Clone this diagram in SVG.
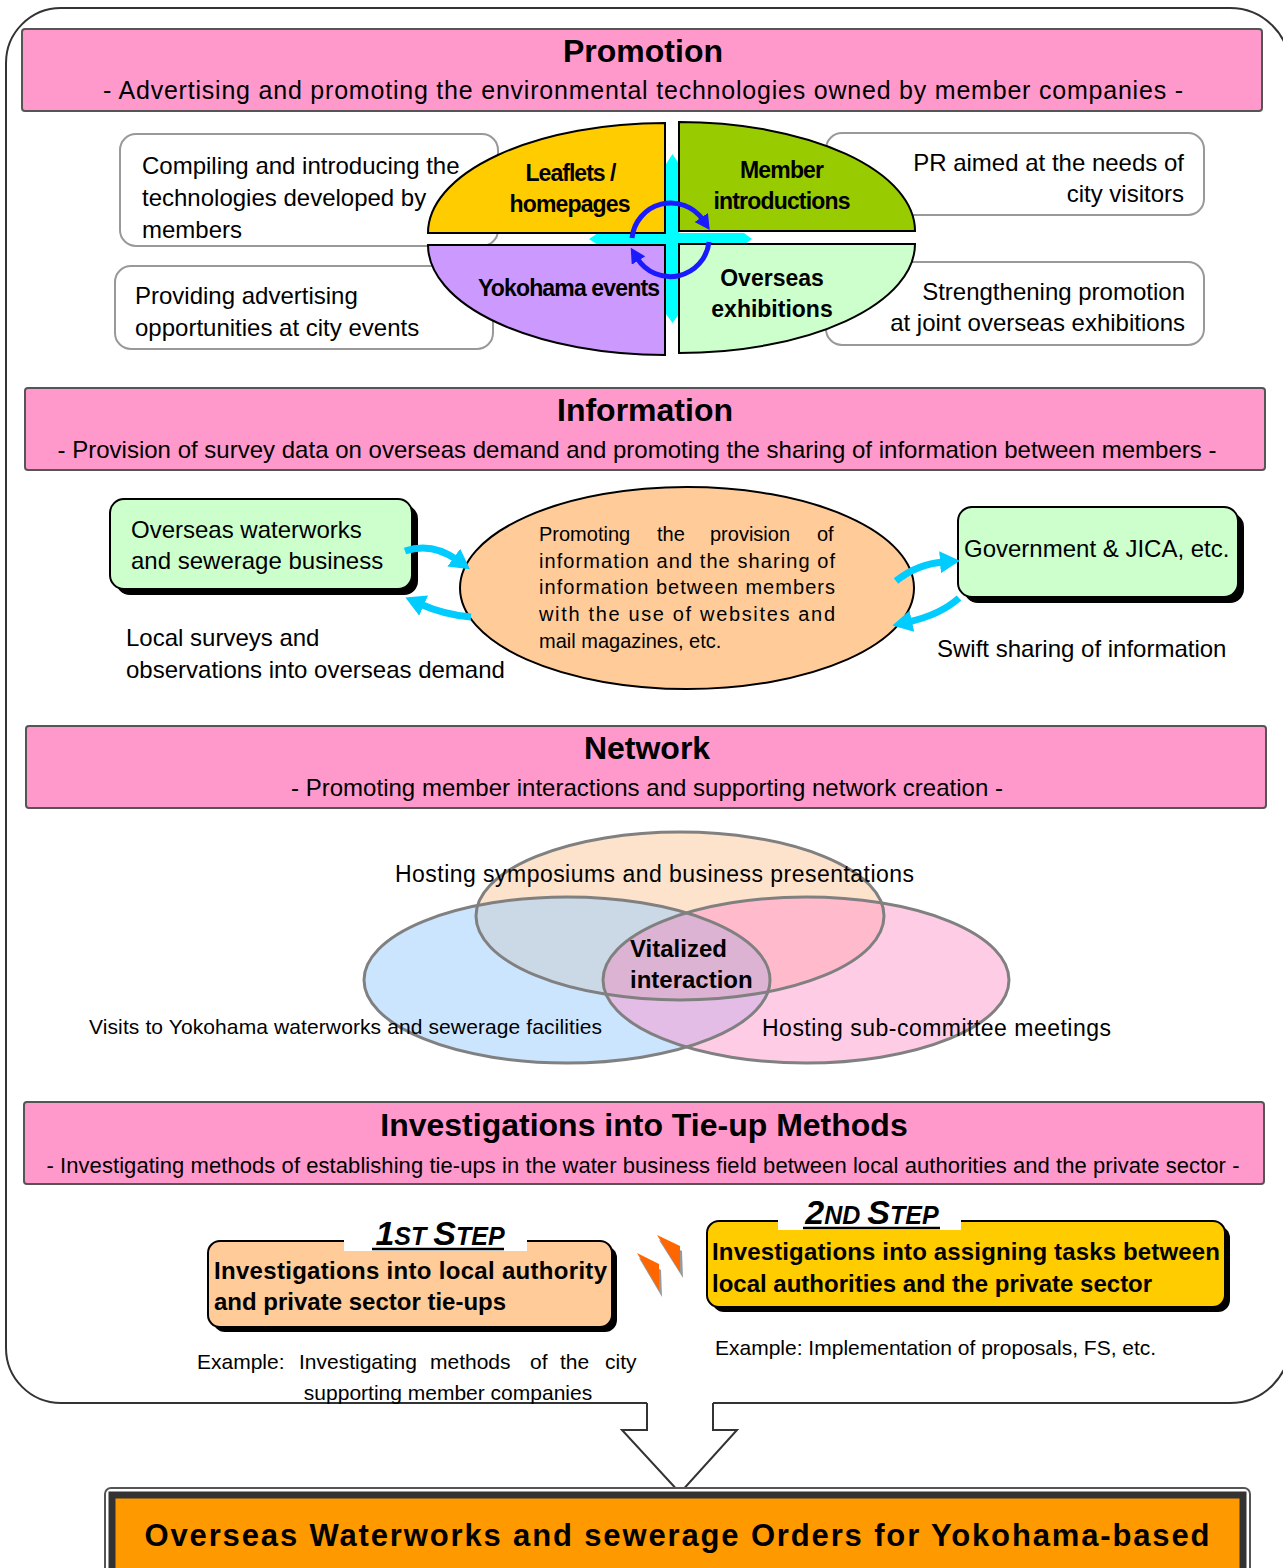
<svg xmlns="http://www.w3.org/2000/svg" width="1283" height="1568" viewBox="0 0 1283 1568">
<style>
text{font-family:"Liberation Sans",Arial,sans-serif;fill:#000}
.hdr{fill:#FF99CC;stroke:#555;stroke-width:2}
.ttl{font-size:32px;font-weight:bold;text-anchor:middle}
.sub{font-size:24px;text-anchor:middle}
.note{fill:#fff;stroke:#999;stroke-width:2}
.t24{font-size:24px}
.b21{font-size:23px;font-weight:bold;text-anchor:middle}
.quad{stroke:#000;stroke-width:2}
.gbox{fill:#CCFFCC;stroke:#000;stroke-width:2}
.cy{fill:none;stroke:#00CCFF;stroke-width:7}
.bl{fill:none;stroke:#1a1aff;stroke-width:5}
.vs{fill:none;stroke:#808080;stroke-width:3}
.stepT{font-size:34px;font-weight:bold;font-style:italic;text-anchor:middle}
.stepS{font-size:25px}
.sbx{font-size:24px;font-weight:bold}
.ex{font-size:21px}
.i20{font-size:20px}
</style>
<defs>
<marker id="ca" markerUnits="userSpaceOnUse" markerWidth="22" markerHeight="22" refX="4" refY="11" orient="auto"><path d="M0,0 L20,11 L0,22 Z" fill="#00CCFF"/></marker>
<marker id="ba" markerUnits="userSpaceOnUse" markerWidth="16" markerHeight="16" refX="3" refY="8" orient="auto"><path d="M0,0 L15,8 L0,16 Z" fill="#1a1aff"/></marker>
<clipPath id="cL"><ellipse cx="567" cy="980" rx="203" ry="83"/></clipPath>
<clipPath id="cR"><ellipse cx="806" cy="980" rx="203" ry="83"/></clipPath>
</defs>

<g id="frame">
<path d="M647,1403 H61 A55,55 0 0 1 6,1348 V63 A55,55 0 0 1 61,8 H1230 A60,60 0 0 1 1290,68 V1343 A60,60 0 0 1 1230,1403 H713" fill="none" stroke="#333" stroke-width="2"/>
<path d="M647,1403 V1430 H622 L680,1493 L737,1430 H713 V1403" fill="#fff" stroke="#333" stroke-width="2"/>
</g>

<!-- Promotion -->
<g id="promotion-header">
<rect class="hdr" x="22" y="29" width="1240" height="82" rx="3"/>
<text class="ttl" x="643" y="62">Promotion</text>
<text class="sub" x="643" y="99" textLength="1080" style="font-size:25px">- Advertising and promoting the environmental technologies owned by member companies -</text>
</g>
<g id="note-compiling">
<rect class="note" x="120" y="134" width="378" height="112" rx="16"/>
<text class="t24" x="142" y="174">Compiling and introducing the</text>
<text class="t24" x="142" y="206">technologies developed by</text>
<text class="t24" x="142" y="238">members</text>
</g>
<g id="note-providing">
<rect class="note" x="115" y="266" width="378" height="83" rx="16"/>
<text class="t24" x="135" y="304">Providing advertising</text>
<text class="t24" x="135" y="336">opportunities at city events</text>
</g>
<g id="note-pr">
<rect class="note" x="826" y="133" width="378" height="82" rx="16"/>
<text class="t24" x="1184" y="171" text-anchor="end">PR aimed at the needs of</text>
<text class="t24" x="1184" y="202" text-anchor="end">city visitors</text>
</g>
<g id="note-strengthening">
<rect class="note" x="826" y="262" width="378" height="83" rx="16"/>
<text class="t24" x="1185" y="300" text-anchor="end">Strengthening promotion</text>
<text class="t24" x="1185" y="331" text-anchor="end">at joint overseas exhibitions</text>
</g>
<g id="cross">
<polygon points="672.5,154 679,164 679,233 744,233 752,239 744,245 679,245 679,314 672.5,323 666,314 666,245 598,245 589,239 598,233 666,233 666,164" fill="#00FFFF"/>
</g>
<g id="quad-leaflets">
<path class="quad" d="M665,233 L428,233 A237,110 0 0 1 665,123 Z" fill="#FFCC00"/>
<text class="b21" x="571" y="181" textLength="91">Leaflets /</text>
<text class="b21" x="570" y="212" textLength="121">homepages</text>
</g>
<g id="quad-member">
<path class="quad" d="M679,231 L679,122 A236,109 0 0 1 915,231 Z" fill="#99CC00"/>
<text class="b21" x="782" y="178" textLength="84">Member</text>
<text class="b21" x="782" y="209" textLength="137">introductions</text>
</g>
<g id="quad-yokohama">
<path class="quad" d="M665,245 L428,245 A237,110 0 0 0 665,355 Z" fill="#CC99FF"/>
<text class="b21" x="569" y="296" textLength="182">Yokohama events</text>
</g>
<g id="quad-overseas">
<path class="quad" d="M679,244 L915,244 A236,109 0 0 1 679,353 Z" fill="#CCFFCC"/>
<text class="b21" x="772" y="286">Overseas</text>
<text class="b21" x="772" y="317">exhibitions</text>
</g>
<g id="cycle-arrows">
<path class="bl" d="M632,238 A39,39 0 0 1 703,220" marker-end="url(#ba)"/>
<path class="bl" d="M709,242 A39,39 0 0 1 637,258" marker-end="url(#ba)"/>
</g>

<!-- Information -->
<g id="information-header">
<rect class="hdr" x="25" y="388" width="1240" height="82" rx="3"/>
<text class="ttl" x="645" y="421">Information</text>
<text class="sub" x="637" y="458" textLength="1159">- Provision of survey data on overseas demand and promoting the sharing of information between members -</text>
</g>
<g id="info-center">
<ellipse cx="687" cy="588" rx="227" ry="101" fill="#FFCC99" stroke="#000" stroke-width="2"/>
<text class="i20" y="541"><tspan x="539">Promoting</tspan><tspan x="657">the</tspan><tspan x="710">provision</tspan><tspan x="817">of</tspan></text>
<text class="i20" x="539" y="568" textLength="296">information and the sharing of</text>
<text class="i20" x="539" y="594" textLength="296">information between members</text>
<text class="i20" x="539" y="621" textLength="296">with the use of websites and</text>
<text class="i20" x="539" y="648">mail magazines, etc.</text>
</g>
<g id="info-overseas">
<rect x="116" y="505" width="302" height="90" rx="14" fill="#000"/>
<rect class="gbox" x="110" y="499" width="302" height="90" rx="14"/>
<text class="t24" x="131" y="538">Overseas waterworks</text>
<text class="t24" x="131" y="569">and sewerage business</text>
</g>
<g id="info-government">
<rect x="964" y="513" width="280" height="90" rx="14" fill="#000"/>
<rect class="gbox" x="958" y="507" width="280" height="90" rx="14"/>
<text class="t24" x="964" y="557">Government &amp; JICA, etc.</text>
</g>
<g id="info-connectors">
<path class="cy" d="M405,551 Q432,542 457,560" marker-end="url(#ca)"/>
<path class="cy" d="M471,617 Q445,615 420,604" marker-end="url(#ca)"/>
<path class="cy" d="M896,581 Q917,564 944,562" marker-end="url(#ca)"/>
<path class="cy" d="M959,598 Q940,615 908,622" marker-end="url(#ca)"/>
</g>
<g id="info-labels">
<text class="t24" x="126" y="646">Local surveys and</text>
<text class="t24" x="126" y="678">observations into overseas demand</text>
<text class="t24" x="937" y="657">Swift sharing of information</text>
</g>

<!-- Network -->
<g id="network-header">
<rect class="hdr" x="26" y="726" width="1240" height="82" rx="3"/>
<text class="ttl" x="647" y="759">Network</text>
<text class="sub" x="647" y="796" textLength="712">- Promoting member interactions and supporting network creation -</text>
</g>
<g id="venn">
<ellipse cx="680" cy="916" rx="204" ry="84" fill="#FDE3CB"/>
<ellipse cx="567" cy="980" rx="203" ry="83" fill="#CCE5FF"/>
<ellipse cx="806" cy="980" rx="203" ry="83" fill="#FFCCE5"/>
<ellipse cx="680" cy="916" rx="204" ry="84" fill="#CBD8E6" clip-path="url(#cL)"/>
<ellipse cx="680" cy="916" rx="204" ry="84" fill="#FFBBCC" clip-path="url(#cR)"/>
<ellipse cx="567" cy="980" rx="203" ry="83" fill="#E3BDE5" clip-path="url(#cR)"/>
<g clip-path="url(#cL)"><ellipse cx="680" cy="916" rx="204" ry="84" fill="#DDB3D3" clip-path="url(#cR)"/></g>
<ellipse class="vs" cx="680" cy="916" rx="204" ry="84"/>
<ellipse class="vs" cx="567" cy="980" rx="203" ry="83"/>
<ellipse class="vs" cx="806" cy="980" rx="203" ry="83"/>
<text class="t24" x="395" y="882" textLength="519" style="font-size:23px">Hosting symposiums and business presentations</text>
<text class="t24" x="630" y="957" style="font-weight:bold">Vitalized</text>
<text class="t24" x="630" y="988" style="font-weight:bold">interaction</text>
<text class="ex" x="89" y="1034" textLength="513">Visits to Yokohama waterworks and sewerage facilities</text>
<text class="t24" x="762" y="1036" textLength="349" style="font-size:23px">Hosting sub-committee meetings</text>
</g>

<!-- Investigations -->
<g id="investigations-header">
<rect class="hdr" x="24" y="1102" width="1240" height="82" rx="3"/>
<text class="ttl" x="644" y="1136">Investigations into Tie-up Methods</text>
<text class="sub" x="643" y="1173" textLength="1193" style="font-size:22px">- Investigating methods of establishing tie-ups in the water business field between local authorities and the private sector -</text>
</g>
<g id="step1">
<rect x="213" y="1246" width="404" height="86" rx="12" fill="#000"/>
<rect x="208" y="1241" width="404" height="86" rx="12" fill="#FFCC99" stroke="#000" stroke-width="2"/>
<rect x="344" y="1218" width="183" height="33" fill="#fff"/>
<text class="stepT" x="440" y="1245">1<tspan class="stepS">ST </tspan>S<tspan class="stepS">TEP</tspan></text>
<line x1="372" y1="1249" x2="504" y2="1249" stroke="#000" stroke-width="2.5"/>
<text class="sbx" x="214" y="1279" textLength="393">Investigations into local authority</text>
<text class="sbx" x="214" y="1310">and private sector tie-ups</text>
</g>
<g id="step-chevrons">
<polygon points="639,1258 661,1270 662,1297" fill="#999"/>
<polygon points="637,1253 659,1264 659,1290" fill="#FF6600"/>
<polygon points="659,1240 682,1251 683,1278" fill="#999"/>
<polygon points="657,1235 680,1246 680,1272" fill="#FF6600"/>
</g>
<g id="step2">
<rect x="712" y="1226" width="518" height="86" rx="12" fill="#000"/>
<rect x="707" y="1221" width="518" height="86" rx="12" fill="#FFCC00" stroke="#000" stroke-width="2"/>
<rect x="778" y="1196" width="183" height="34" fill="#fff"/>
<text class="stepT" x="872" y="1224">2<tspan class="stepS">ND </tspan>S<tspan class="stepS">TEP</tspan></text>
<line x1="803" y1="1228" x2="940" y2="1228" stroke="#000" stroke-width="2.5"/>
<text class="sbx" x="712" y="1260" textLength="508">Investigations into assigning tasks between</text>
<text class="sbx" x="712" y="1292">local authorities and the private sector</text>
</g>
<g id="examples">
<text class="ex" y="1369"><tspan x="197">Example:</tspan><tspan x="299">Investigating</tspan><tspan x="430">methods</tspan><tspan x="530">of</tspan><tspan x="560">the</tspan><tspan x="605">city</tspan></text>
<text class="ex" x="448" y="1400" text-anchor="middle">supporting member companies</text>
<text class="ex" x="715" y="1355">Example: Implementation of proposals, FS, etc.</text>
</g>

<!-- Result -->
<g id="result">
<rect x="105" y="1488" width="1145" height="100" rx="6" fill="#fff" stroke="#555" stroke-width="2"/>
<rect x="112" y="1495" width="1131" height="90" fill="#FF9900" stroke="#333" stroke-width="7"/>
<text x="677" y="1546" text-anchor="middle" style="font-size:31px;font-weight:bold" textLength="1065">Overseas Waterworks and sewerage Orders for Yokohama-based</text>
</g>
</svg>
